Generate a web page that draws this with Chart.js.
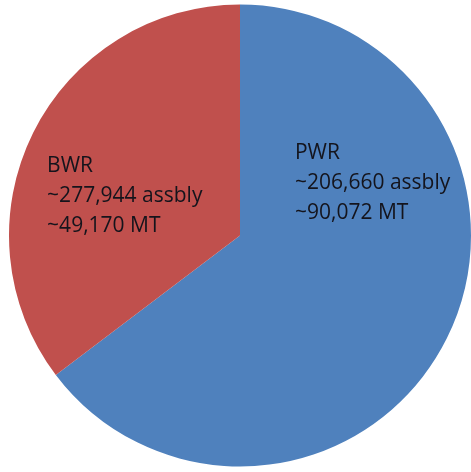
<!DOCTYPE html>
<html>
<head>
<meta charset="utf-8">
<script src="https://cdn.jsdelivr.net/npm/chart.js@4/dist/chart.umd.min.js"></script>
<style>
  html, body { margin: 0; padding: 0; background: #ffffff; }
  #wrap { width: 471px; height: 472px; }
</style>
</head>
<body>
<div id="wrap"><canvas id="pie" width="471" height="472"></canvas></div>
<script>
// Spent fuel inventory by reactor type
const categories = ['PWR', 'BWR'];
const metricTons = [90072, 49170];
const assemblies = [206660, 277944];
const sliceColors = ['#4F81BD', '#C0504D'];

const fmt = n => n.toLocaleString('en-US');

// Label anchor for each slice, as fractions of the pie radius from its centre
const labelAnchor = [
  { dx: 0.238, dy: -0.333 },
  { dx: -0.835, dy: -0.277 }
];
const lineStep = 0.13;

const sliceLabels = {
  id: 'sliceLabels',
  afterDatasetsDraw(chart) {
    const ctx = chart.ctx;
    const meta = chart.getDatasetMeta(0);
    ctx.save();
    ctx.font = '21px "Open Sans", sans-serif';
    ctx.fillStyle = '#14141c';
    ctx.textAlign = 'left';
    ctx.textBaseline = 'alphabetic';
    meta.data.forEach((arc, i) => {
      const r = arc.outerRadius;
      const x0 = arc.x + labelAnchor[i].dx * r;
      const y0 = arc.y + labelAnchor[i].dy * r;
      const lines = [
        categories[i],
        '~' + fmt(assemblies[i]) + ' assbly',
        '~' + fmt(metricTons[i]) + ' MT'
      ];
      lines.forEach((t, k) => ctx.fillText(t, x0, y0 + k * lineStep * r));
    });
    ctx.restore();
  }
};

new Chart(document.getElementById('pie'), {
  type: 'pie',
  data: {
    labels: categories,
    datasets: [{
      data: metricTons,
      backgroundColor: sliceColors,
      borderWidth: 0
    }]
  },
  options: {
    responsive: false,
    animation: false,
    layout: { padding: { left: 9, right: 0, top: 4, bottom: 5 } },
    plugins: {
      legend: { display: false },
      tooltip: { enabled: false }
    }
  },
  plugins: [sliceLabels]
});
</script>
</body>
</html>
